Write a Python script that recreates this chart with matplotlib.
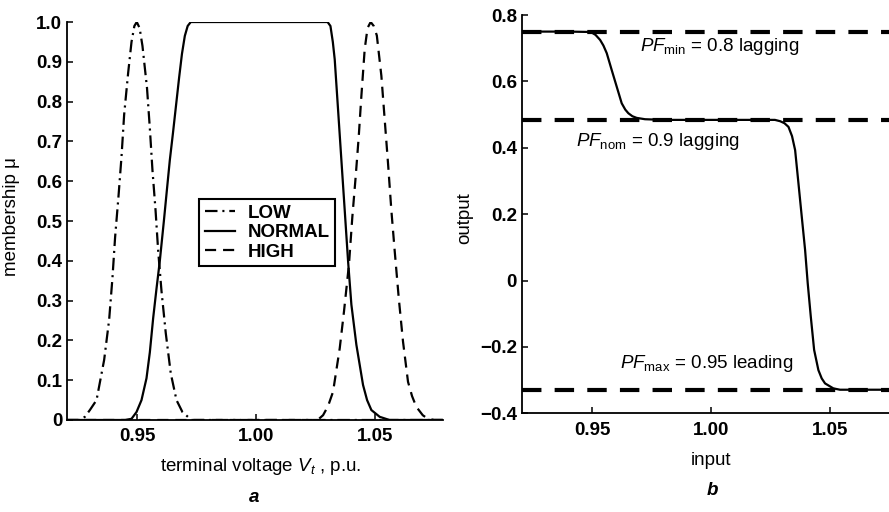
import matplotlib
matplotlib.use("Agg")
import matplotlib.pyplot as plt
from matplotlib.ticker import FixedLocator, FixedFormatter

plt.rcParams['font.family'] = ['Liberation Sans', 'DejaVu Sans']
plt.rcParams['mathtext.fontset'] = 'custom'
plt.rcParams['mathtext.rm'] = 'Liberation Sans'
plt.rcParams['mathtext.it'] = 'Liberation Sans:italic'
plt.rcParams['mathtext.bf'] = 'Liberation Sans:bold'
plt.rcParams['lines.scale_dashes'] = False

# ---------------- data ----------------
# panel a: membership functions
low_x = [0.9205, 0.9259, 0.9280, 0.9301, 0.9329, 0.9361, 0.9382, 0.9396, 0.9407,
         0.9421, 0.9434, 0.9445, 0.9462, 0.9476, 0.9488, 0.9498, 0.9510, 0.9522,
         0.9541, 0.9553, 0.9564, 0.9577, 0.9588, 0.9602, 0.9620, 0.9641, 0.9665,
         0.9690, 0.9728, 0.9800, 1.0785]
low_mu = [0, 0, 0.008, 0.025, 0.05, 0.151, 0.252, 0.358, 0.459,
          0.56, 0.662, 0.767, 0.873, 0.95, 0.99, 1.0, 0.985, 0.94,
          0.835, 0.733, 0.628, 0.527, 0.425, 0.324, 0.218, 0.117, 0.05,
          0.02, 0.0, 0, 0]

normal_x = [0.9205, 0.9450, 0.9476, 0.9497, 0.9518, 0.9539, 0.9553, 0.9567, 0.9581,
            0.9595, 0.9612, 0.9625, 0.9637, 0.9650, 0.9663, 0.9676, 0.9688, 0.9700,
            0.9712, 0.9725, 0.9740, 1.0300, 1.0312, 1.0322, 1.0330, 1.0344, 1.0358,
            1.0372, 1.0386, 1.0400, 1.0421, 1.0449, 1.0466, 1.0484, 1.0519, 1.0560,
            1.0785]
normal_mu = [0, 0, 0.003, 0.02, 0.05, 0.105, 0.17, 0.256, 0.33,
             0.40, 0.5, 0.58, 0.653, 0.72, 0.79, 0.86, 0.92, 0.965,
             0.99, 1.0, 1.0, 1.0, 0.99, 0.95, 0.906, 0.78, 0.653,
             0.527, 0.40, 0.29, 0.189, 0.088, 0.05, 0.025, 0.008, 0,
             0]

high_x = [0.9205, 1.0200, 1.0258, 1.0281, 1.0302, 1.0323, 1.0351, 1.0369, 1.0390,
          1.0404, 1.0418, 1.0431, 1.0442, 1.0456, 1.0468, 1.0481, 1.0494, 1.0507,
          1.0526, 1.0540, 1.0554, 1.0568, 1.0582, 1.0599, 1.0617, 1.0638, 1.0655,
          1.0673, 1.0700, 1.0722, 1.0750, 1.0785]
high_mu = [0, 0, 0, 0.012, 0.035, 0.071, 0.18, 0.273, 0.392,
           0.51, 0.611, 0.713, 0.814, 0.932, 0.985, 1.0, 0.99, 0.966,
           0.865, 0.755, 0.645, 0.527, 0.425, 0.307, 0.197, 0.096, 0.06,
           0.033, 0.012, 0.003, 0, 0]

series_labels = ['LOW', 'NORMAL', 'HIGH']

# panel b: controller output
out_x = [0.9205, 0.9400, 0.9480, 0.9499, 0.9515, 0.9534, 0.9548, 0.9562, 0.9583,
         0.9604, 0.9625, 0.9640, 0.9653, 0.9670, 0.9688, 0.9723, 0.9800, 1.0200,
         1.0270, 1.0292, 1.0310, 1.0327, 1.0342, 1.0355, 1.0369, 1.0383, 1.0397,
         1.0408, 1.0421, 1.0435, 1.0453, 1.0467, 1.0481, 1.0516, 1.0544, 1.0785]
out_y = [0.75, 0.75, 0.749, 0.747, 0.74, 0.725, 0.708, 0.685, 0.634,
         0.584, 0.534, 0.515, 0.504, 0.495, 0.49, 0.486, 0.484, 0.484,
         0.484, 0.48, 0.474, 0.463, 0.435, 0.393, 0.293, 0.192, 0.092,
         -0.008, -0.109, -0.209, -0.27, -0.295, -0.31, -0.325, -0.329, -0.329]

pf_levels = [0.75, 0.4843, -0.3287]
pf_texts = [r'$PF_{\rm min}$ = 0.8 lagging',
            r'$PF_{\rm nom}$ = 0.9 lagging',
            r'$PF_{\rm max}$ = 0.95 leading']
pf_text_x = [0.9702, 0.9433, 0.9618]
pf_text_y = [0.705, 0.418, -0.2495]

xticks = [0.95, 1.00, 1.05]
xticklabels = ['0.95', '1.00', '1.05']
a_yticks = [0, 0.1, 0.2, 0.3, 0.4, 0.5, 0.6, 0.7, 0.8, 0.9, 1.0]
a_yticklabels = ['0', '0.1', '0.2', '0.3', '0.4', '0.5', '0.6', '0.7', '0.8', '0.9', '1.0']
b_yticks = [-0.4, -0.2, 0, 0.2, 0.4, 0.6, 0.8]
b_yticklabels = ['\u22120.4', '\u22120.2', '0', '0.2', '0.4', '0.6', '0.8']

XLIM = (0.9205, 1.0785)
FS = 13.5

# ---------------- figure ----------------
fig = plt.figure(figsize=(8.89, 5.12), dpi=100)
ax1 = fig.add_axes([0.0754, 0.1797, 0.4229, 0.7773])
ax2 = fig.add_axes([0.5871, 0.1928, 0.4222, 0.7779])

def style(ax):
    for s in ['top', 'right']:
        ax.spines[s].set_visible(False)
    for s in ['left', 'bottom']:
        ax.spines[s].set_linewidth(1.3)
    ax.tick_params(direction='in', length=4, width=1.1, labelsize=FS)
    ax.tick_params(axis='x', pad=6)
    ax.tick_params(axis='y', pad=3.5)
    for lab in ax.get_xticklabels() + ax.get_yticklabels():
        lab.set_fontweight('bold')

# panel a
l1, = ax1.plot(low_x, low_mu, color='black', lw=1.6, dashes=[9, 3.5, 1.5, 3.5],
               label=series_labels[0])
l2, = ax1.plot(normal_x, normal_mu, color='black', lw=1.6, label=series_labels[1])
l3, = ax1.plot(high_x, high_mu, color='black', lw=1.6, dashes=[8, 5],
               label=series_labels[2])
ax1.set_xlim(*XLIM)
ax1.set_ylim(0, 1.0)
ax1.xaxis.set_major_locator(FixedLocator(xticks))
ax1.xaxis.set_major_formatter(FixedFormatter(xticklabels))
ax1.yaxis.set_major_locator(FixedLocator(a_yticks))
ax1.yaxis.set_major_formatter(FixedFormatter(a_yticklabels))
style(ax1)
ax1.set_ylabel('membership \u03bc', fontsize=FS)
ax1.yaxis.set_label_coords(-0.125, 0.51)
ax1.set_xlabel(r'terminal voltage $V_t$ , p.u.', fontsize=FS)
ax1.xaxis.set_label_coords(0.516, -0.117)
ax1.xaxis.label.set_va('center')
ax1.text(0.498, -0.195, 'a', transform=ax1.transAxes, fontsize=FS,
         style='italic', fontweight='bold', ha='center', va='center')
leg = ax1.legend(handles=[l1, l2, l3], loc='upper left',
                 bbox_to_anchor=(0.351, 0.555), fontsize=FS, frameon=True,
                 fancybox=False, edgecolor='black', framealpha=1,
                 handlelength=1.6, handletextpad=0.7, labelspacing=0.12,
                 borderpad=0.3, borderaxespad=0)
leg.get_frame().set_linewidth(1.5)
for t in leg.get_texts():
    t.set_fontweight('bold')

# panel b
for lvl in pf_levels:
    ax2.plot(list(XLIM), [lvl, lvl], color='black', lw=3, dashes=[14, 9.5],
             solid_capstyle='butt', dash_capstyle='butt')
ax2.plot(out_x, out_y, color='black', lw=1.6)
for tx, ty, s in zip(pf_text_x, pf_text_y, pf_texts):
    ax2.text(tx, ty, s, fontsize=FS, ha='left', va='center')
ax2.set_xlim(*XLIM)
ax2.set_ylim(-0.4, 0.8)
ax2.xaxis.set_major_locator(FixedLocator(xticks))
ax2.xaxis.set_major_formatter(FixedFormatter(xticklabels))
ax2.yaxis.set_major_locator(FixedLocator(b_yticks))
ax2.yaxis.set_major_formatter(FixedFormatter(b_yticklabels))
style(ax2)
ax2.set_ylabel('output', fontsize=FS)
ax2.yaxis.set_label_coords(-0.1306, 0.49)
ax2.set_xlabel('input', fontsize=FS)
ax2.xaxis.set_label_coords(0.503, -0.118)
ax2.xaxis.label.set_va('center')
ax2.text(0.508, -0.193, 'b', transform=ax2.transAxes, fontsize=FS,
         style='italic', fontweight='bold', ha='center', va='center')

fig.savefig('out.png', dpi=100)
